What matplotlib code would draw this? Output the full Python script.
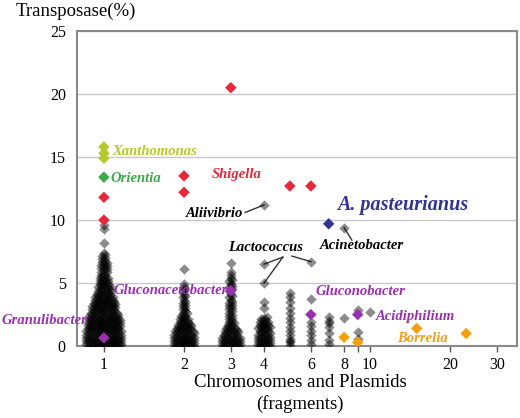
import matplotlib
matplotlib.use("Agg")
import matplotlib.pyplot as plt
import numpy as np

plt.rcParams['font.family'] = ['Liberation Serif', 'DejaVu Serif']

# transposase share (%) bins used for the dense swarms
bins = [0.0, 0.25, 0.5, 0.75, 1.0, 1.25, 1.5, 1.75, 2.0, 2.25, 2.5, 2.75,
        3.0, 3.25, 3.5, 3.75, 4.0, 4.25, 4.5, 4.75, 5.0, 5.25, 5.5, 5.75,
        6.0, 6.25, 6.5, 6.75, 7.0, 7.25, 7.5]

# number of genomes per bin, for 1, 2, 3 and 4 fragments
n_frag1 = [12, 13, 13, 13, 13, 13, 12, 12, 12, 11, 11, 10, 9, 9, 8, 7,
           7, 6, 5, 5, 4, 4, 4, 3, 3, 3, 3, 2, 2, 2, 1]
n_frag2 = [8, 8, 8, 8, 8, 7, 6, 5, 4, 4, 3, 2, 2, 2, 2, 1, 2, 1, 2, 1, 1]
n_frag3 = [7, 7, 7, 7, 6, 5, 4, 3, 2, 2, 2, 2, 2, 2, 2, 1, 2, 1, 2, 2,
           1, 2, 1, 1, 1]
n_frag4 = [5, 5, 5, 5, 5, 4, 5, 4, 4, 3]

# scattered genomes (fragments, %)
other_x = [1, 1, 1, 2, 3, 4, 4, 4, 4, 4,
           5, 5, 5, 5, 5, 5, 5, 5, 5, 5, 5, 5, 5, 5,
           6, 6, 6, 6, 6, 6, 6, 6,
           7, 7, 7, 7, 7, 7, 7,
           8, 8, 9, 9, 9, 10]
other_y = [8.2, 9.3, 9.6, 6.1, 6.6, 3.0, 3.5, 5.0, 6.5, 11.2,
           4.2, 3.9, 3.5, 3.0, 2.6, 2.2, 1.9, 1.5, 1.2, 0.9, 0.6, 0.3, 0.1, 0.4,
           3.7, 6.7, 1.9, 1.6, 1.2, 0.9, 0.5, 0.2,
           2.3, 2.0, 1.8, 1.5, 1.0, 0.5, 0.2,
           2.2, 9.4, 2.9, 1.1, 0.6, 2.7]

# highlighted genera
hl_x = [1, 1, 1, 1, 1, 1, 2, 2, 3, 5, 6,
        7, 1, 3, 6, 9, 8, 9, 15, 23]
hl_y = [15.8, 15.3, 14.9, 13.4, 11.8, 10.0, 13.5, 12.2, 20.5, 12.7, 12.7,
        9.7, 0.65, 4.4, 2.5, 2.5, 0.7, 0.3, 1.4, 1.0]
hl_c = ['#b3c92c'] * 3 + ['#3aaa4a'] + ['#e8283a'] * 7 + ['#323296'] \
    + ['#9a2fb0'] * 4 + ['#f4a00c'] * 4

labels = ['Xanthomonas', 'Orientia', 'Shigella', 'Aliivibrio', 'A. pasteurianus',
          'Acinetobacter', 'Lactococcus', 'Gluconacetobacter', 'Granulibacter',
          'Gluconobacter', 'Acidiphilium', 'Borrelia']
lab_x = [1.08, 1.06, 2.55, 3.33, 7.5, 6.5, 2.93, 2.93, 0.87, 6.22, 10.5, 12.7]
lab_y = [15.4, 13.3, 13.6, 10.55, 11.2, 7.95, 7.85, 4.45, 2.05, 4.37, 2.38, 0.63]
lab_c = ['#b3c92c', '#3aaa4a', '#e8283a', 'black', '#323296', 'black', 'black',
         '#9a2fb0', '#9a2fb0', '#9a2fb0', '#9a2fb0', '#f4a00c']
lab_ha = ['left', 'left', 'left', 'right', 'left', 'left', 'left', 'right',
          'right', 'left', 'left', 'left']

fig = plt.figure(figsize=(5.2, 4.18), dpi=100)
ax = fig.add_axes([0.148, 0.172, 0.846, 0.754])
ax.set_xscale('log')
xmin, xmax = 0.792, 35.7
ax.set_xlim(xmin, xmax)
ax.set_ylim(0, 25)

# px per decade on the log axis, for swarm spreading
ppd = 0.846 * 520 / np.log10(xmax / xmin)
step = 2.9

sx, sy = [], []
for x0, counts in [(1, n_frag1), (2, n_frag2), (3, n_frag3), (4, n_frag4)]:
    for lev, n in zip(bins, counts):
        for i in range(n):
            off = (i - (n - 1) / 2) * step
            sx.append(x0 * 10 ** (off / ppd))
            sy.append(lev + 0.09 * ((i % 3) - 1))
sx += other_x
sy += other_y

ax.scatter(sx, sy, marker='D', s=28, color='black', alpha=0.45,
           linewidths=0, zorder=3)
ax.scatter(hl_x, hl_y, marker='D', s=34, c=hl_c, linewidths=0, zorder=4)

for t, x, y, c, ha in zip(labels, lab_x, lab_y, lab_c, lab_ha):
    fs = 14.5 if t.startswith('A.') else 10.5
    ax.text(x, y, t, color=c, ha=ha, va='center', fontsize=fs,
            fontweight='bold', fontstyle='italic', zorder=5, clip_on=False)

line_kw = dict(color='#333333', lw=1, zorder=2)
ax.plot([3.4, 4], [10.6, 11.2], **line_kw)
ax.plot([8, 8.56], [9.4, 8.4], **line_kw)
ax.plot([4.71, 4], [7.06, 6.5], **line_kw)
ax.plot([4.71, 4], [7.06, 5.0], **line_kw)
ax.plot([5.09, 6], [7.14, 6.7], **line_kw)

ax.set_yticks([0, 5, 10, 15, 20, 25])
ax.yaxis.grid(True, color='#c8c8c8', lw=1)
ax.set_axisbelow(True)
ax.tick_params(axis='y', length=0, labelsize=11.5, pad=8)

ticks = [1, 2, 3, 4, 6, 8, 9, 10, 20, 30]
ax.set_xticks(ticks)
ax.set_xticklabels(['1', '2', '3', '4', '6', '8', '', '10', '20', '30'])
ax.xaxis.set_minor_locator(matplotlib.ticker.NullLocator())
ax.tick_params(axis='x', length=4, width=1, color='#555555', labelsize=11.5)

for s in ax.spines.values():
    s.set_color('#8a8a8a')
    s.set_linewidth(1.5)

fig.text(0.03, 0.972, 'Transposase(%)', fontsize=13.5, va='center', ha='left')
fig.text(0.577, 0.086, 'Chromosomes and Plasmids', fontsize=13.5,
         va='center', ha='center')
fig.text(0.577, 0.033, '(fragments)', fontsize=13.5, va='center', ha='center')

fig.savefig('out.png', dpi=100)
